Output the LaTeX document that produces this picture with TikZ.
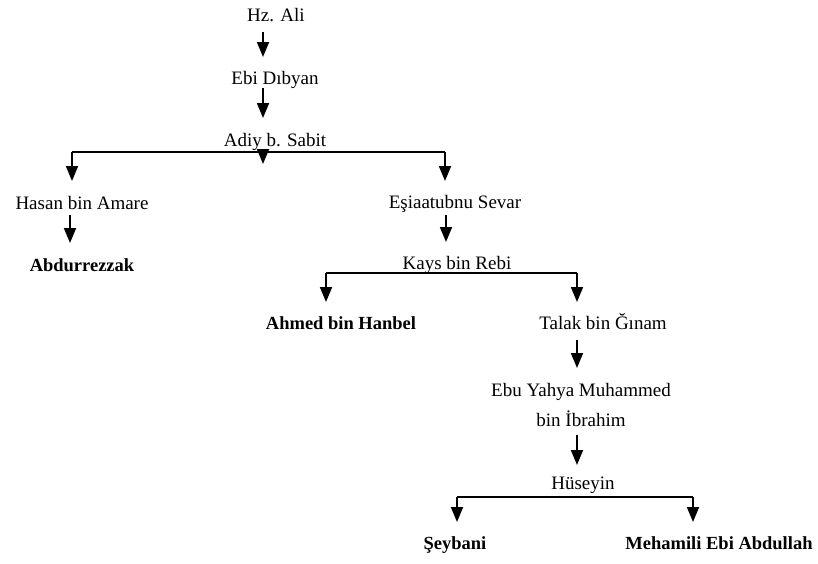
\documentclass[tikz,border=0pt]{standalone}
\usepackage{fontspec}
\setmainfont{Liberation Serif}
\usetikzlibrary{arrows.meta,calc}
\tikzset{
  nm/.style={inner sep=0pt, anchor=base, font=\fontsize{19}{22}\selectfont},
  bnm/.style={inner sep=0pt, anchor=base, font=\fontsize{18.5}{22}\selectfont\bfseries},
  ln/.style={line width=1.8pt, line cap=butt},
  arr/.style={line width=1.8pt, -{Triangle[width=12pt,length=15pt]}},
}
\begin{document}
\begin{tikzpicture}[x=1pt,y=-1pt]
\useasboundingbox (0,0) rectangle (818,563);
% nodes
\node[nm]  (ali)   at (276,21)  {Hz. Ali};
\node[nm]  (dib)   at (275,84)  {Ebi Dıbyan};
\node[nm]  (adiy)  at (275,146) {Adiy b. Sabit};
\node[nm]  (hasan) at (82,209)  {Hasan bin Amare};
\node[bnm] (abd)   at (82,271)  {Abdurrezzak};
\node[nm]  (esi)   at (455,208) {Eşiaatubnu Sevar};
\node[nm]  (kays)  at (457,269) {Kays bin Rebi};
\node[bnm] (ahmed) at (341,329) {Ahmed bin Hanbel};
\node[nm]  (talak) at (603,329) {Talak bin Ğınam};
\node[nm]  (ebu)   at (581,396) {Ebu Yahya Muhammed};
\node[nm]  (ibr)   at (581,426) {bin İbrahim};
\node[nm]  (hus)   at (583,489) {Hüseyin};
\node[bnm] (sey)   at (455,549) {Şeybani};
\node[bnm] (meh)   at (719,549) {Mehamili Ebi Abdullah};
% branch corners
\coordinate (b1l) at (72,152);
\coordinate (b1r) at (445,152);
\coordinate (b2l) at (326,273);
\coordinate (b2r) at (577,273);
\coordinate (b3l) at (457,497);
\coordinate (b3r) at (693,497);
% straight connectors
\draw[arr] ($(ali.base)+(-13,11)$) -- ($(dib.base)+(-12,-27)$);
\draw[arr] ($(dib.base)+(-12,4)$) -- ($(adiy.base)+(-12,-28)$);
\draw[arr] ($(hasan.base)+(-12,6)$) -- ($(abd.base)+(-12,-28)$);
\draw[arr] ($(esi.base)+(-9,7)$) -- ($(kays.base)+(-11,-27)$);
\draw[arr] ($(talak.base)+(-26,11)$) -- ($(ebu.base)+(-4,-28)$);
\draw[arr] ($(ibr.base)+(-4,9)$) -- ($(hus.base)+(-6,-24)$);
% branch 1 (Adiy b. Sabit)
\draw[ln] (b1l) -- (b1r);
\draw[arr] ($(adiy.base)+(-12,4)$) -- ($(adiy.base)+(-12,18)$);
\draw[arr] (b1l) -- ($(hasan.base)+(-10,-28)$);
\draw[arr] (b1r) -- ($(esi.base)+(-10,-27)$);
% branch 2 (Kays bin Rebi)
\draw[ln] (b2l) -- (b2r);
\draw[arr] (b2l) -- ($(ahmed.base)+(-15,-27)$);
\draw[arr] (b2r) -- ($(talak.base)+(-26,-27)$);
% branch 3 (Hüseyin)
\draw[ln] (b3l) -- (b3r);
\draw[arr] (b3l) -- ($(sey.base)+(2,-27)$);
\draw[arr] (b3r) -- ($(meh.base)+(-26,-27)$);
\end{tikzpicture}
\end{document}
